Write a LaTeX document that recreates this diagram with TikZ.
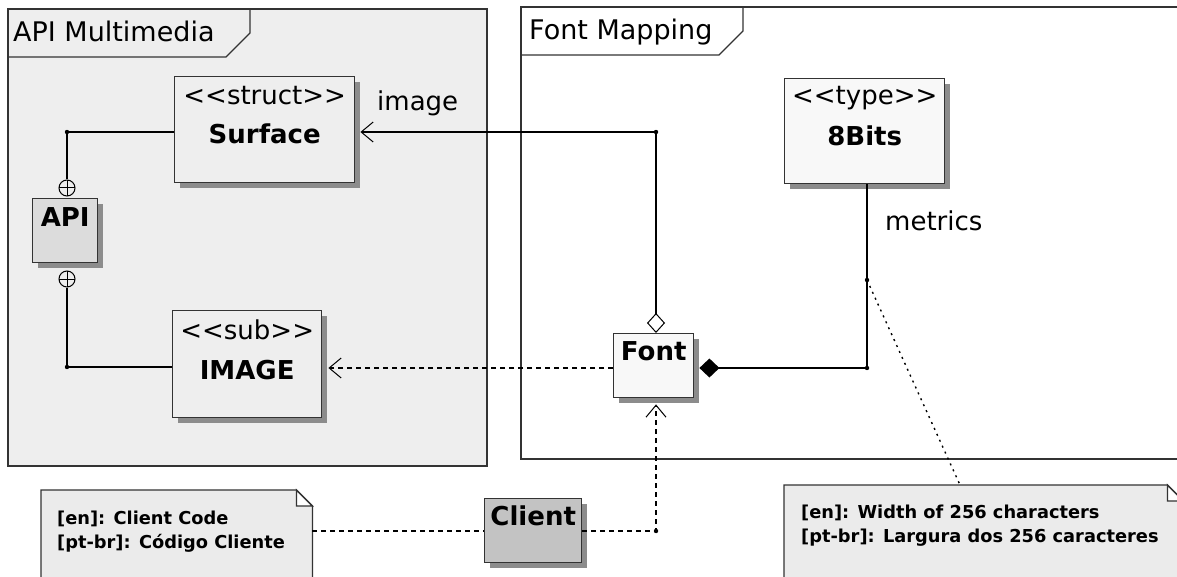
\documentclass[tikz,border=0pt]{standalone}
\usepackage{fontspec}
\setmainfont{DejaVu Sans}
\usetikzlibrary{arrows.meta,calc,shadows}

\definecolor{framefill}{HTML}{EEEEEE}
\definecolor{apifill}{HTML}{DCDCDC}
\definecolor{lightfill}{HTML}{F8F8F8}
\definecolor{clientfill}{HTML}{C3C3C3}
\definecolor{notefill}{HTML}{EBEBEB}
\definecolor{edgec}{HTML}{333333}
\definecolor{shadowc}{HTML}{8C8C8C}

% stereotype brackets kept as plain < and > glyphs
\newcommand\stereotxt[1]{<\kern0pt<#1>\kern0pt>}

\tikzset{
  big/.style={font=\fontsize{26}{30}\selectfont, inner sep=0pt},
  titletext/.style={font=\fontsize{27}{31}\selectfont, inner sep=0pt, anchor=base west},
  bigbold/.style={font=\fontsize{26}{30}\selectfont\bfseries, inner sep=0pt},
  notetext/.style={font=\fontsize{17.8}{21}\selectfont\bfseries, inner sep=0pt, anchor=base west},
  classbox/.style={draw=edgec, line width=1.4pt, anchor=north west, inner sep=0pt,
    drop shadow={shadow xshift=5pt, shadow yshift=-5pt, fill=shadowc, opacity=1}},
  framestyle/.style={draw=edgec, line width=1.4pt},
  notestyle/.style={draw=edgec, line width=1.3pt, fill=notefill},
  conn/.style={line width=1.3pt, black},
  dashconn/.style={conn, dash pattern=on 5pt off 4pt},
  dotconn/.style={line width=1.4pt, black, dash pattern=on 2pt off 4.5pt},
  openhead/.style={-{Straight Barb[length=12pt, width=20pt, line width=1pt]}},
  plusc/.style={circle, draw=black, line width=1pt, minimum size=16pt, inner sep=0pt, fill=framefill,
    path picture={\draw[line width=1pt] (path picture bounding box.north) -- (path picture bounding box.south)
                   (path picture bounding box.west) -- (path picture bounding box.east);}},
  jdot/.style={black},
}

\begin{document}
\begin{tikzpicture}[x=1pt, y=-1pt]
\useasboundingbox (0,0) rectangle (1177,577);

% ---- package frames ----
\draw[framestyle, fill=framefill] (8,9) rectangle (487,466);
\draw[framestyle] (8,57) -- (226,57) -- (250,33) -- (250,9);
\node[titletext] (apititle) at (13,42) {API Multimedia};

\draw[framestyle, fill=white] (521,7) rectangle (1190,459);
\draw[framestyle] (521,55) -- (719,55) -- (743,31) -- (743,7);
\node[titletext] (fonttitle) at (529,40) {Font Mapping};

% ---- classes ----
\node[classbox, fill=framefill, minimum width=180pt, minimum height=106pt] (surface) at (174,76) {};
\node[big, anchor=base] (surfaceS) at ($(surface.north)+(0,29)$) {\stereotxt{struct}};
\node[bigbold, anchor=base] (surfaceN) at ($(surface.north)+(0,68)$) {Surface};

\node[classbox, fill=framefill, minimum width=149pt, minimum height=107pt] (image) at (172,310) {};
\node[big, anchor=base] (imageS) at ($(image.north)+(0,29)$) {\stereotxt{sub}};
\node[bigbold, anchor=base] (imageN) at ($(image.north)+(0,69)$) {IMAGE};

\node[classbox, fill=apifill, minimum width=65pt, minimum height=64pt] (api) at (32,198) {};
\node[bigbold, anchor=base] (apiN) at ($(api.north)+(0,29)$) {API};

\node[classbox, fill=lightfill, minimum width=80pt, minimum height=64pt] (font) at (613,333) {};
\node[bigbold, anchor=base] (fontN) at ($(font.north)+(0,27)$) {Font};

\node[classbox, fill=lightfill, minimum width=160pt, minimum height=105pt] (bits) at (784,78) {};
\node[big, anchor=base] (bitsS) at ($(bits.north)+(0,27)$) {\stereotxt{type}};
\node[bigbold, anchor=base] (bitsN) at ($(bits.north)+(0,68)$) {8Bits};

\node[classbox, fill=clientfill, minimum width=97pt, minimum height=64pt] (client) at (484,498) {};
\node[bigbold, anchor=base] (clientN) at ($(client.north)+(0,27)$) {Client};

% ---- notes ----
\node[anchor=north west, minimum width=271pt, minimum height=100pt, inner sep=0pt] (note1) at (41,490) {};
\draw[notestyle] (note1.north west) -- ([xshift=-16pt]note1.north east) -- ([yshift=-16pt]note1.north east)
  -- (note1.south east) -- (note1.south west) -- cycle;
\draw[draw=edgec, line width=1.3pt, fill=white] ([xshift=-16pt]note1.north east) -- ([xshift=-16pt,yshift=-16pt]note1.north east)
  -- ([yshift=-16pt]note1.north east) -- cycle;
\node[notetext] (note1a) at (57,524) {[en]: Client Code};
\node[notetext] (note1b) at (57,548) {[pt-br]: Código Cliente};

\node[anchor=north west, minimum width=399pt, minimum height=105pt, inner sep=0pt] (note2) at (784,485) {};
\draw[notestyle] (note2.north west) -- ([xshift=-16pt]note2.north east) -- ([yshift=-16pt]note2.north east)
  -- (note2.south east) -- (note2.south west) -- cycle;
\draw[draw=edgec, line width=1.3pt, fill=white] ([xshift=-16pt]note2.north east) -- ([xshift=-16pt,yshift=-16pt]note2.north east)
  -- ([yshift=-16pt]note2.north east) -- cycle;
\node[notetext] (note2a) at (801,518) {[en]: Width of 256 characters};
\node[notetext] (note2b) at (801,542) {[pt-br]: Largura dos 256 caracteres};

% ---- nesting links (API) ----
\node[plusc] (plus1) at (67,188) {};
\node[plusc] (plus2) at (67,279) {};
\coordinate (j1) at (67,132);
\coordinate (j6) at (67,367);
\draw[conn] (plus1.north) -- (j1) -- (surface.west |- j1);
\draw[conn] (plus2.south) -- (j6) -- (image.west |- j6);

% ---- aggregation Font -> Surface ----
\coordinate (j2) at (656,132);
\draw[conn, {Diamond[open, length=20pt, width=18pt, line width=1pt]}-{Straight Barb[length=12pt, width=20pt, line width=1pt]}]
  (font.north -| j2) -- (j2) -- ($(surface.east |- j2)+(5,0)$);

% ---- composition Font -> 8Bits ----
\coordinate (j3) at (867,368);
\draw[conn, {Diamond[length=20pt, width=19pt]}-]
  ($(font.east |- j3)+(5,0)$) -- (j3) -- (j3 |- bits.south);
\node[big, anchor=base west] (imglabel) at (377,111) {image};
\node[big, anchor=base west] (metlabel) at (885,231) {metrics};

% ---- dependencies ----
\draw[dashconn, openhead] (font.west |- j3) -- ($(image.east |- j3)+(6,0)$);
\coordinate (j5) at (656,531);
\draw[dashconn, openhead] (client.east |- j5) -- (j5) -- ($(j5 |- font.south)+(0,6)$);
\draw[dashconn] (note1.east |- j5) -- (client.west |- j5);

% ---- note link ----
\coordinate (j4) at (867,280);
\coordinate (n2a) at (960,485);
\draw[dotconn] (j4) -- (n2a);

% ---- junction dots ----
\foreach \p in {j1,j2,j3,j4,j5,j6} \fill[jdot] (\p) circle (2.2);
\end{tikzpicture}
\end{document}
